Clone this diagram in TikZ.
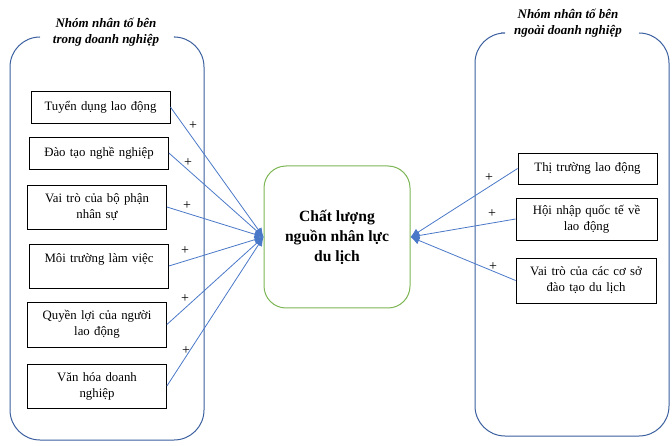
\documentclass[tikz,border=0pt]{standalone}
\usepackage{fontspec}
\setmainfont{Liberation Serif}
\usetikzlibrary{arrows.meta}
\definecolor{grpblue}{HTML}{3A5F9E}
\definecolor{lnblue}{HTML}{4A78C8}
\definecolor{ctrgreen}{HTML}{7DB654}
\tikzset{
  factor/.style={draw=black, line width=0.8pt, minimum width=139pt, text width=132pt, align=center, font=\fontsize{12.8}{16}\selectfont, inner sep=1pt},
  grpline/.style={draw=grpblue, line width=1pt, rounded corners=30pt},
  grptitle/.style={align=center, font=\fontsize{13}{16}\selectfont\bfseries\itshape},
  conn/.style={draw=lnblue, line width=0.8pt, -{Latex[length=9pt,width=8pt]}},
  plus/.style={font=\fontsize{14}{14}\selectfont, inner sep=0pt}
}
\begin{document}
\begin{tikzpicture}[x=1pt,y=-1pt]
\useasboundingbox (0,0) rectangle (672,446);
% group boxes
\draw[grpline] (40,37) -- (10,37) -- (10,440) -- (204,440) -- (204,37) -- (175,37);
\draw[grpline] (501,33) -- (475,33) -- (475,436) -- (669,436) -- (669,33) -- (639,33);
\node[grptitle] (tL) at (106,32) {Nhóm nhân tố bên\\trong doanh nghiệp};
\node[grptitle] (tR) at (568,23) {Nhóm nhân tố bên\\ngoài doanh nghiệp};
% center
\node[draw=ctrgreen, line width=1pt, rounded corners=22pt, minimum width=146pt, minimum height=142pt, align=center, font=\fontsize{15.6}{20}\selectfont\bfseries] (c) at (337,237) {Chất lượng\\nguồn nhân lực\\du lịch};
% left factors
\node[factor, minimum height=32pt] (l1) at (100.5,107) {Tuyển dụng lao động};
\node[factor, minimum height=32pt] (l2) at (99,153) {Đào tạo nghề nghiệp};
\node[factor, minimum height=44pt] (l3) at (97,207) {Vai trò của bộ phận\\nhân sự};
\node[factor, minimum height=44pt] (l4) at (99,266) {Môi trường làm việc\\~};
\node[factor, minimum height=45pt] (l5) at (97,324.5) {Quyền lợi của người\\lao động};
\node[factor, minimum height=44pt] (l6) at (97,386) {Văn hóa doanh\\nghiệp};
% right factors
\node[factor, minimum height=31pt] (r1) at (587.5,168.5) {Thị trường lao động};
\node[factor, minimum width=141pt, minimum height=42pt] (r2) at (586.5,219) {Hội nhập quốc tế về\\lao động};
\node[factor, minimum width=140pt, minimum height=45pt] (r3) at (586,280.5) {Vai trò của các cơ sở\\đào tạo du lịch};
% connectors
\foreach \n in {l1,l2,l3,l4,l5,l6} \draw[conn] (\n.east) -- (c.west);
\foreach \n in {r1,r2,r3} \draw[conn] (\n.west) -- (c.east);
% plus signs
\node[plus] (p1) at (193,126) {+};
\node[plus] (p2) at (188,163) {+};
\node[plus] (p3) at (187,206) {+};
\node[plus] (p4) at (185,251) {+};
\node[plus] (p5) at (185,299) {+};
\node[plus] (p6) at (186,351) {+};
\node[plus] (q1) at (489,178) {+};
\node[plus] (q2) at (492,214) {+};
\node[plus] (q3) at (493,267) {+};
\end{tikzpicture}
\end{document}
